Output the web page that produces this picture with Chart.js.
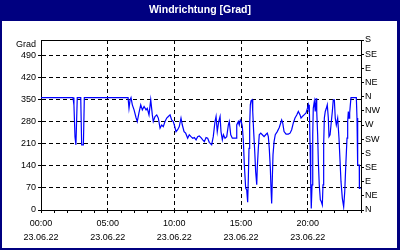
<!DOCTYPE html>
<html>
<head>
<meta charset="utf-8">
<script src="https://cdn.jsdelivr.net/npm/chart.js@4"></script>
<style>
  body { margin: 0; background: #fff; }
  canvas { display: block; }
</style>
</head>
<body>
<canvas id="chart" width="400" height="250"></canvas>
<script>
// wind direction, hours since 00:00 on 23.06.22
const hours = [
  0, 2.40, 2.47, 2.55, 2.62, 2.72, 2.98, 3.05, 3.18, 3.25, 6.53,
  6.60, 6.68, 6.75, 6.85, 6.98, 7.13, 7.22, 7.35, 7.48, 7.60, 7.73, 7.88, 7.97,
  8.10, 8.23, 8.35, 8.42, 8.55, 8.68, 8.80, 8.93, 9.05, 9.17, 9.30, 9.43, 9.55,
  9.68, 9.80, 9.92, 10.00, 10.13, 10.25, 10.37, 10.50, 10.60, 10.73, 10.85,
  11.00, 11.12, 11.25, 11.38, 11.50, 11.63, 11.75, 11.87, 12.00, 12.13, 12.25,
  12.38, 12.50, 12.62, 12.80, 12.92, 13.05, 13.13, 13.22, 13.33, 13.43, 13.50,
  13.60, 13.68, 13.80, 13.93, 14.05, 14.12, 14.23, 14.35, 14.50, 14.63, 14.68,
  14.80, 14.87, 14.95, 15.02, 15.10, 15.18, 15.25, 15.35, 15.43, 15.50, 15.55,
  15.60, 15.65, 15.70, 15.75, 15.83, 15.88, 15.95, 16.03, 16.10, 16.18, 16.22,
  16.30, 16.37, 16.48, 16.60, 16.73, 16.85, 16.97, 17.05, 17.12, 17.20, 17.25,
  17.30, 17.35, 17.40, 17.48, 17.57, 17.72, 17.87, 18.05, 18.13, 18.23, 18.38,
  18.55, 18.68, 18.80, 18.92, 19.05, 19.18, 19.30, 19.43, 19.50, 19.60, 19.73,
  19.88, 19.98, 20.05, 20.10, 20.12, 20.18, 20.23, 20.27, 20.33, 20.38, 20.42,
  20.50, 20.57, 20.63, 20.68, 20.75, 20.80, 20.87, 20.95, 21.02, 21.10, 21.15,
  21.20, 21.25, 21.32, 21.40, 21.47, 21.55, 21.60, 21.68, 21.75, 21.85, 21.92,
  22.00, 22.07, 22.15, 22.25, 22.30, 22.35, 22.43, 22.50, 22.60, 22.70, 22.78,
  22.85, 22.95, 23.00, 23.05, 23.10, 23.15, 23.20, 23.25, 23.65, 23.70, 23.75,
  23.87, 23.88, 23.97
];
const degrees = [
  357, 357, 334, 232, 207, 357, 357, 207, 207, 357, 357,
  323, 350, 357, 334, 318, 293, 281, 309, 334, 318, 329, 318, 323,
  302, 350, 302, 281, 297, 302, 292, 260, 270, 265, 281, 292, 297,
  302, 286, 281, 270, 249, 255, 265, 292, 270, 249, 244,
  228, 239, 233, 228, 230, 223, 233, 235, 230, 223, 217,
  230, 228, 215, 207, 233, 281, 297, 249, 281, 297, 249,
  223, 239, 228, 233, 270, 281, 239, 228, 228, 228, 270,
  281, 270, 286, 281, 265, 217, 143, 70, 64, 25, 101,
  196, 270, 334, 347, 350, 313, 249, 186, 122, 80, 133,
  196, 239, 244, 239, 233, 239, 244, 233, 196, 133, 69,
  21, 101, 175, 217, 239, 249, 262, 286, 276, 249, 241,
  241, 244, 255, 276, 292, 302, 313, 302, 292, 297, 302,
  308, 323, 334, 313, 334, 207, 80, 5, 80, 239, 323,
  345, 313, 355, 313, 239, 154, 80, 32, 27, 16, 80,
  207, 292, 313, 323, 334, 292, 233, 239, 270, 313, 350,
  350, 292, 270, 292, 260, 228, 154, 90, 37, 10, 58,
  133, 228, 281, 313, 292, 308, 334, 357, 357, 292, 143,
  143, 69, 69
];

const xTicks = [0, 1, 2, 3, 4, 5, 6, 7, 8, 9, 10, 11, 12, 13, 14, 15, 16, 17, 18, 19, 20, 21, 22, 23, 24];
const xLabels = { 0: '00:00', 5: '05:00', 10: '10:00', 15: '15:00', 20: '20:00' };
const dateLabel = '23.06.22';
const degTicks = [0, 70, 140, 210, 280, 350, 420, 490];
const compassTicks = [0, 45, 90, 135, 180, 225, 270, 315, 360, 405, 450, 495, 540];
const compassLabels = ['N', 'NE', 'E', 'SE', 'S', 'SW', 'W', 'NW', 'N', 'NE', 'E', 'SE', 'S'];

const NAVY = '#000080';
const FONT = 'Liberation Sans';

const frame = {
  id: 'frame',
  beforeDraw(chart) {
    const c = chart.ctx;
    c.save();
    c.fillStyle = '#fff';
    c.fillRect(0, 0, 400, 250);
    c.restore();
  },
  afterDraw(chart) {
    const c = chart.ctx;
    const a = chart.chartArea;
    c.save();
    c.fillStyle = NAVY;
    c.fillRect(0, 0, 400, 21);
    c.fillRect(0, 0, 2, 250);
    c.fillRect(397, 0, 3, 250);
    c.fillRect(0, 248, 400, 2);
    c.fillStyle = '#fff';
    c.font = 'bold 10.5px ' + FONT;
    c.textAlign = 'center';
    c.textBaseline = 'middle';
    c.fillText('Windrichtung [Grad]', 200, 10.5);
    c.strokeStyle = '#000';
    c.lineWidth = 1;
    c.beginPath();
    c.moveTo(a.left, Math.round(a.top) + 0.5);
    c.lineTo(a.right, Math.round(a.top) + 0.5);
    c.stroke();
    c.fillStyle = '#000';
    c.font = '9px ' + FONT;
    c.textAlign = 'right';
    c.fillText('Grad', 36, 45);
    c.restore();
  }
};

new Chart(document.getElementById('chart'), {
  type: 'line',
  data: {
    datasets: [{
      data: hours.map((h, i) => ({ x: h, y: degrees[i] })),
      borderColor: '#0000ff',
      borderWidth: 1.2,
      pointRadius: 0,
      tension: 0,
      fill: false,
      yAxisID: 'y'
    }]
  },
  options: {
    responsive: false,
    animation: false,
    devicePixelRatio: 1,
    layout: { padding: { top: 40, left: 2, right: 3, bottom: 2 } },
    plugins: { legend: { display: false }, title: { display: false }, tooltip: { enabled: false } },
    scales: {
      x: {
        type: 'linear',
        min: 0,
        max: 24,
        afterBuildTicks: s => { s.ticks = xTicks.map(v => ({ value: v })); },
        afterFit: s => { s.height = 38; },
        ticks: {
          autoSkip: false,
          maxRotation: 0,
          padding: 3,
          color: '#000',
          font: { family: FONT, size: 9, lineHeight: 1.6 },
          callback: v => xLabels[v] ? [xLabels[v], dateLabel] : ''
        },
        grid: {
          color: c => (c.tick && c.tick.value % 5 === 0 && c.tick.value > 0 && c.tick.value < 24) ? '#000' : 'rgba(0,0,0,0)',
          tickColor: '#000',
          tickLength: 3,
          lineWidth: 1
        },
        border: { color: '#000', dash: [4, 3] }
      },
      y: {
        position: 'left',
        min: 0,
        max: 540,
        afterBuildTicks: s => { s.ticks = degTicks.map(v => ({ value: v })); },
        afterFit: s => { s.width = 39; },
        ticks: {
          padding: 2,
          color: '#000',
          font: { family: FONT, size: 9 }
        },
        grid: {
          color: c => (c.tick && c.tick.value > 0) ? '#000' : 'rgba(0,0,0,0)',
          tickColor: '#000',
          tickLength: 3
        },
        border: { color: '#000', dash: [4, 3] }
      },
      y2: {
        position: 'right',
        min: 0,
        max: 540,
        afterBuildTicks: s => { s.ticks = compassTicks.map(v => ({ value: v })); },
        afterFit: s => { s.width = 36; },
        ticks: {
          padding: 1,
          color: '#000',
          font: { family: FONT, size: 9 },
          callback: (v, i) => compassLabels[i]
        },
        grid: { drawOnChartArea: false, tickColor: '#000', tickLength: 3 },
        border: { color: '#000' }
      }
    }
  },
  plugins: [frame]
});
</script>
</body>
</html>
